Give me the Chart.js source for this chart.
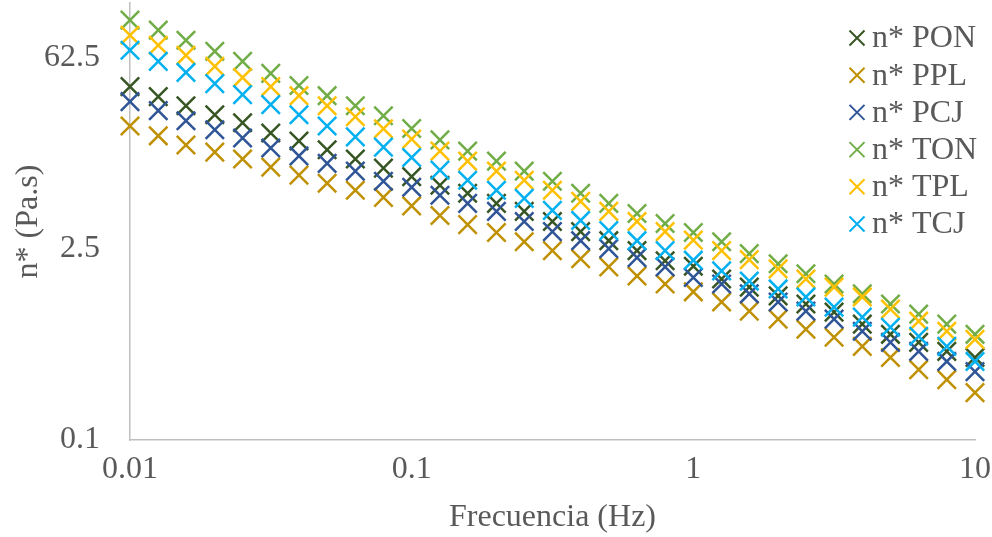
<!DOCTYPE html>
<html>
<head>
<meta charset="utf-8">
<script src="https://cdn.jsdelivr.net/npm/chart.js@4/dist/chart.umd.min.js"></script>
<style>
  html, body { margin: 0; padding: 0; background: #fff; }
  #wrap { width: 992px; height: 537px; }
</style>
</head>
<body>
<div id="wrap"><canvas id="chart" width="992" height="537"></canvas></div>
<script>
// frecuencia (Hz)
const freq = [0.01, 0.0126, 0.0158, 0.02, 0.0251, 0.0316, 0.0398, 0.0501, 0.0631, 0.0794,
  0.1, 0.126, 0.158, 0.2, 0.251, 0.316, 0.398, 0.501, 0.631, 0.794,
  1, 1.26, 1.58, 2, 2.51, 3.16, 3.98, 5.01, 6.31, 7.94, 10];

const seriesNames = ['n* PON', 'n* PPL', 'n* PCJ', 'n* TON', 'n* TPL', 'n* TCJ'];
const seriesColors = ['#375623', '#BF9000', '#2F5597', '#70AD47', '#FFC000', '#00B0F0'];

const PON = [38.2, 32.3, 27.7, 23.8, 20.8, 17.5, 15.3, 13.2, 11.3, 9.70, 8.40, 7.27, 6.35, 5.36, 4.68, 3.95,
  3.33, 2.86, 2.42, 2.04, 1.86, 1.50, 1.31, 1.13, 0.985, 0.860, 0.702, 0.592, 0.517, 0.444, 0.401];
const PPL = [19.7, 16.7, 14.3, 12.7, 11.3, 9.86, 8.61, 7.52, 6.68, 5.93, 5.14, 4.37, 3.75, 3.28, 2.81, 2.42,
  2.11, 1.84, 1.58, 1.38, 1.21, 1.02, 0.875, 0.764, 0.645, 0.563, 0.483, 0.401, 0.327, 0.276, 0.222];
const PCJ = [29.7, 25.5, 21.5, 18.5, 16.1, 13.6, 11.9, 10.5, 9.21, 7.78, 7.03, 6.14, 5.36, 4.68, 3.95, 3.33,
  2.86, 2.50, 2.15, 1.84, 1.54, 1.38, 1.17, 1.02, 0.875, 0.764, 0.623, 0.517, 0.444, 0.375, 0.316];
const TON = [117, 98.8, 83.4, 69.2, 58.4, 47.7, 38.9, 32.8, 27.7, 23.4, 18.9, 15.6, 12.9, 10.9, 9.21, 7.78,
  6.35, 5.36, 4.52, 3.82, 3.28, 2.81, 2.30, 1.94, 1.64, 1.38, 1.17, 0.985, 0.831, 0.702, 0.592];
const TPL = [90.7, 76.6, 64.7, 53.7, 44.5, 38.2, 32.8, 27.7, 23.0, 18.8, 15.8, 12.9, 10.9, 9.21, 7.91, 6.68,
  5.54, 4.68, 3.95, 3.33, 2.89, 2.42, 2.08, 1.78, 1.50, 1.31, 1.11, 0.905, 0.738, 0.623, 0.544];
const TCJ = [70.4, 58.4, 48.5, 40.2, 33.4, 28.2, 23.8, 19.7, 16.4, 13.8, 11.6, 9.37, 7.91, 6.68, 5.83, 4.76,
  4.02, 3.39, 2.86, 2.42, 2.06, 1.72, 1.45, 1.27, 1.11, 0.936, 0.790, 0.667, 0.573, 0.483, 0.375];

const xTicks = [0.01, 0.1, 1, 10];
const yTicks = [0.1, 2.5, 62.5];

const allSeries = [PON, PPL, PCJ, TON, TPL, TCJ];
const textColor = '#595959';
const serif = '"Liberation Serif", "Times New Roman", serif';

const datasets = allSeries.map((vals, i) => ({
  label: seriesNames[i],
  data: vals.map((v, j) => ({ x: freq[j], y: v })),
  borderColor: seriesColors[i],
  backgroundColor: seriesColors[i],
  pointStyle: 'crossRot',
  pointRadius: 13,
  pointBorderWidth: 2.5,
  pointHoverRadius: 13,
  showLine: false,
  clip: false,
  order: 5 - i   // la última serie queda encima, como en Excel
}));

// leyenda dibujada encima del área del gráfico
const legendPlugin = {
  id: 'sideLegend',
  afterDraw(chart) {
    const ctx = chart.ctx;
    ctx.save();
    ctx.font = '32px ' + serif;
    ctx.textBaseline = 'middle';
    ctx.lineWidth = 2;
    seriesNames.forEach((name, i) => {
      const cx = 857, cy = 38 + i * 37.2, h = 7.5;
      ctx.strokeStyle = seriesColors[i];
      ctx.beginPath();
      ctx.moveTo(cx - h, cy - h); ctx.lineTo(cx + h, cy + h);
      ctx.moveTo(cx + h, cy - h); ctx.lineTo(cx - h, cy + h);
      ctx.stroke();
      ctx.fillStyle = textColor;
      ctx.fillText(name, 872, cy + 1);
    });
    ctx.restore();
  }
};

new Chart(document.getElementById('chart'), {
  type: 'scatter',
  data: { datasets },
  plugins: [legendPlugin],
  options: {
    responsive: false,
    animation: false,
    devicePixelRatio: 1,
    layout: { autoPadding: false, padding: { top: 3, right: 17, left: 0, bottom: 0 } },
    plugins: {
      legend: { display: false },
      tooltip: { enabled: false }
    },
    scales: {
      x: {
        type: 'logarithmic',
        min: 0.01,
        max: 10,
        afterBuildTicks: s => { s.ticks = xTicks.map(v => ({ value: v })); },
        afterFit: s => { s.height = 97; s.paddingLeft = 0; s.paddingRight = 0; },
        grid: { display: false, drawTicks: false },
        border: { display: true, color: '#BFBFBF', width: 1.5 },
        ticks: {
          color: textColor,
          font: { family: serif, size: 32 },
          padding: 10,
          maxRotation: 0,
          callback: v => String(v)
        },
        title: {
          display: true,
          text: 'Frecuencia (Hz)',
          color: textColor,
          font: { family: serif, size: 32 },
          padding: { top: 0, bottom: 0 }
        }
      },
      y: {
        type: 'logarithmic',
        min: 0.1,
        max: 156,
        afterBuildTicks: s => { s.ticks = yTicks.map(v => ({ value: v })); },
        afterFit: s => { s.width = 130; s.paddingTop = 0; s.paddingBottom = 0; },
        grid: { display: false, drawTicks: false },
        border: { display: true, color: '#BFBFBF', width: 1.5 },
        ticks: {
          color: textColor,
          font: { family: serif, size: 32 },
          padding: 30,
          callback: v => String(v)
        },
        title: {
          display: true,
          text: 'n* (Pa.s)',
          color: textColor,
          font: { family: serif, size: 32 },
          padding: { top: 9, bottom: 0 }
        }
      }
    }
  }
});
</script>
</body>
</html>
